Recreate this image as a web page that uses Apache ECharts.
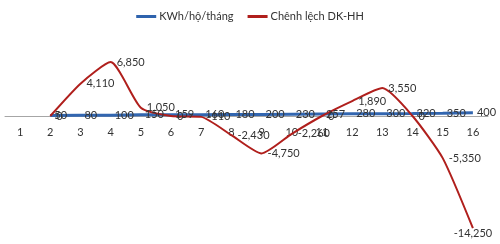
<!DOCTYPE html>
<html>
<head>
<meta charset="utf-8">
<script src="https://cdn.jsdelivr.net/npm/echarts@6/dist/echarts.min.js"></script>
<style>
  html, body { margin: 0; padding: 0; background: #fff; }
  #chart { width: 500px; height: 244px; }
</style>
</head>
<body>
<div id="chart"></div>
<script>
// categories along the x axis
const categories = ['1', '2', '3', '4', '5', '6', '7', '8', '9', '10', '11', '12', '13', '14', '15', '16'];
// KWh per household per month
const kwhValues = [null, 50, 80, 100, 150, 159, 160, 180, 200, 230, 257, 280, 300, 320, 350, 400];
// difference DK-HH
const diffValues = [null, 0, 4110, 6850, 1050, 0, -110, -2430, -4750, -2260, 0, 1890, 3550, 0, -5350, -14250];

const yMin = -16000;
const yMax = 8000;

const fmt = (v) => Number(v).toLocaleString('en-US');
const labelFont = { fontFamily: 'Lato', fontSize: 11, color: '#333' };

const chart = echarts.init(document.getElementById('chart'));

// grid geometry; the category axis is lifted up to the zero line
const gridTop = 53;
const gridBottom = 2;
const gridHeight = 244 - gridTop - gridBottom;
const zeroOffset = -gridHeight * (0 - yMin) / (yMax - yMin);

// last red point sits at the bottom edge, so its label goes under it
const diffData = diffValues.map((v, i) => {
  if (i === diffValues.length - 1) {
    return { value: v, label: { position: 'bottom', distance: 0, offset: [9, 0] } };
  }
  return v;
});

chart.setOption({
  animation: false,
  textStyle: { fontFamily: 'Lato' },
  legend: {
    top: 6,
    left: 'center',
    itemGap: 14,
    itemWidth: 20,
    itemHeight: 3,
    textStyle: { fontFamily: 'Lato', fontSize: 11, color: '#333', padding: [0, 0, 0, -2] },
    data: [
      { name: 'KWh/hộ/tháng', icon: 'rect', itemStyle: { color: '#2f63ad', opacity: 1 } },
      { name: 'Chênh lệch DK-HH', icon: 'rect', itemStyle: { color: '#b01f1c', opacity: 1 } }
    ]
  },
  grid: { left: 5, right: 12, top: gridTop, bottom: gridBottom, outerBoundsMode: 'none' },
  xAxis: {
    type: 'category',
    data: categories,
    boundaryGap: true,
    offset: zeroOffset,
    axisLine: { onZero: false, lineStyle: { color: '#a6a6a6', width: 1 } },
    axisTick: { show: false },
    axisLabel: { show: true, fontFamily: 'Lato', fontSize: 11, color: '#333', margin: 11, interval: 0 },
    splitLine: { show: false }
  },
  yAxis: {
    type: 'value',
    min: yMin,
    max: yMax,
    axisLine: { show: false },
    axisTick: { show: false },
    axisLabel: { show: false },
    splitLine: { show: false }
  },
  series: [
    {
      name: 'KWh/hộ/tháng',
      type: 'line',
      data: kwhValues,
      color: '#2f63ad',
      symbol: 'circle',
      symbolSize: 0,
      lineStyle: { width: 3, color: '#3266b0' },
      label: {
        show: true,
        position: 'right',
        distance: 4,
        ...labelFont,
        formatter: (p) => fmt(p.value)
      },
      labelLayout: { hideOverlap: false }
    },
    {
      name: 'Chênh lệch DK-HH',
      type: 'line',
      data: diffData,
      color: '#b01f1c',
      smooth: 0.2,
      symbol: 'circle',
      symbolSize: 0,
      lineStyle: { width: 2, color: '#b01f1c' },
      label: {
        show: true,
        position: 'right',
        distance: 6,
        ...labelFont,
        formatter: (p) => fmt(p.value)
      },
      labelLayout: { hideOverlap: false },
      z: 3
    }
  ]
});
</script>
</body>
</html>
